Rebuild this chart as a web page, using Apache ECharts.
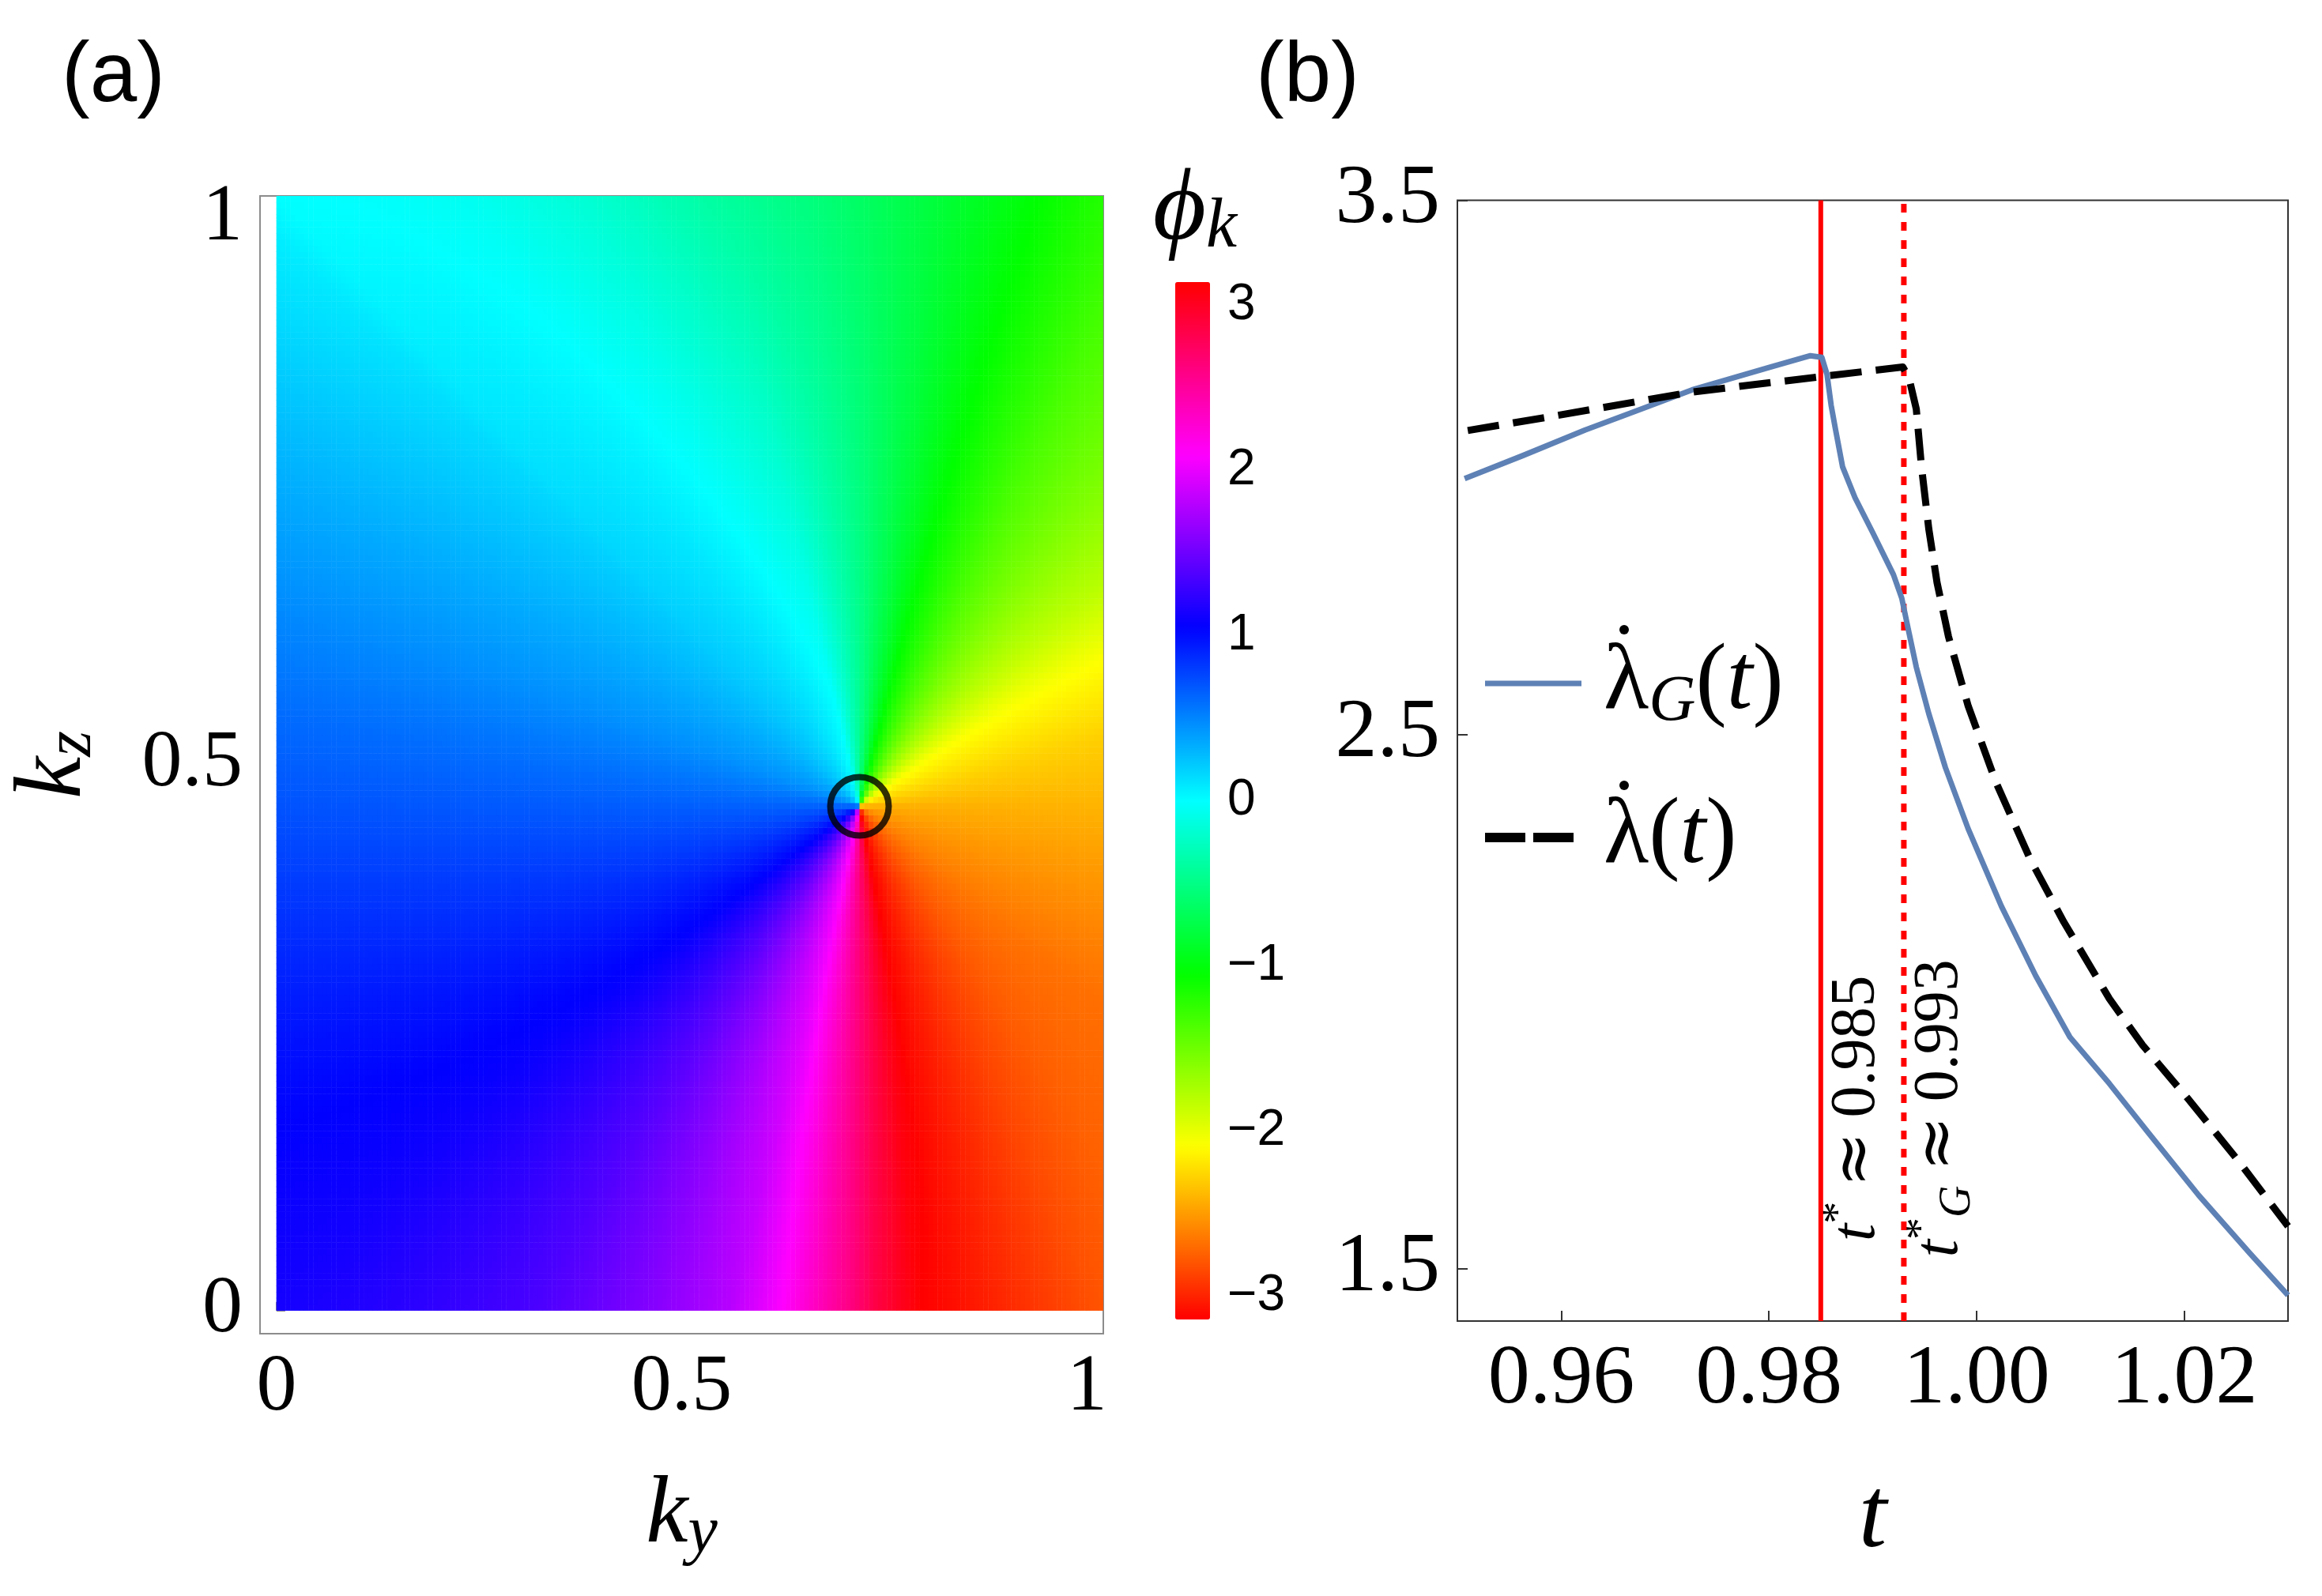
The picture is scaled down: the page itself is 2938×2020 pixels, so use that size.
<!DOCTYPE html>
<html style="height: 100%">
<head>
<meta charset="utf-8">
<script type="text/javascript" src="https://cdn.jsdelivr.net/npm/echarts@6/dist/echarts.min.js"></script>
<style type="text/css">
  html, body { margin: 0; height: 100%; background: #fff; }
  #main { width: 2938px; height: 2020px; }
</style>
</head>
<body>
<div id="main"></div>
<script type="text/javascript">
// ---------- panel (a): phase of the k-plane ----------
var vortex = [0.7194, 0.4615];  // centre of the winding (ky, kz)
var kMax = 1.02;                // the map runs 0 .. 1.02 in both directions

// phase read along the border, anticlockwise from the bottom-right corner
var rightKz    = [0, 0.137, 0.278, 0.419, 0.525, 0.596, 0.666, 0.772, 0.913, 1.02];
var rightPhase = [-2.80, -2.74, -2.69, -2.48, -2.29, -2.09, -1.80, -1.54, -1.33, -1.19];
var topKy      = [0.918, 0.81, 0.667, 0.524, 0.381, 0.238, 0.1, 0];
var topPhase   = [-1.00, -0.80, -0.55, -0.37, -0.18, -0.06, -0.01, 0.00];
var leftKz     = [0.984, 0.878, 0.772, 0.666, 0.56, 0.454, 0.349, 0.243, 0.137, 0];
var leftPhase  = [0.07, 0.19, 0.32, 0.45, 0.59, 0.72, 0.86, 0.98, 1.07, 1.13];
var bottomKy   = [0.166, 0.309, 0.452, 0.56, 0.624, 0.667, 0.71, 0.739, 0.796, 0.846, 0.918, 1.02];
var bottomPhase = [1.22, 1.34, 1.57, 1.80, 2.09, 2.36, 2.62, 2.85, -3.14, -3.07, -2.95, -2.80];

// phase read on a small ring round the vortex (direction in degrees)
var innerRadius = 0.1;
var innerAngle = [-28, 0, 26.8, 40.8, 70.8, 90, 107.5, 143, 165, 180, 191, 209, 254.5, 284.2, 300, 315];
var innerPhase = [-2.62, -2.42, -2.09, -1.75, -1.05, -0.45, 0.00, 0.26, 0.45, 0.65, 0.79, 1.05, 2.09, 3.14, -2.95, -2.78];

var ticksA = [0, 0.5, 1];
var barTicks = [-3, -2, -1, 0, 1, 2, 3];
var barMinor = [-3, -2.8, -2.6, -2.4, -2.2, -2, -1.8, -1.6, -1.4, -1.2, -1, -0.8, -0.6, -0.4, -0.2, 0,
                0.2, 0.4, 0.6, 0.8, 1, 1.2, 1.4, 1.6, 1.8, 2, 2.2, 2.4, 2.6, 2.8, 3];
var hueStops = ['#ff0000', '#ffff00', '#00ff00', '#00ffff', '#0000ff', '#ff00ff', '#ff0000'];

// ---------- panel (b): rates around the transition ----------
var tG   = [0.9507, 0.9563, 0.9623, 0.9677, 0.9726, 0.9802, 0.9840, 0.9851, 0.9856, 0.9860,
            0.9864, 0.9871, 0.9883, 0.9900, 0.9920, 0.9928, 0.9935, 0.9942, 0.9954, 0.9970,
            0.9992, 1.0024, 1.0057, 1.0090, 1.0128, 1.0166, 1.0214, 1.0263, 1.0300];
var lamG = [2.979, 3.022, 3.070, 3.109, 3.145, 3.188, 3.209, 3.206, 3.174, 3.116,
            3.073, 3.001, 2.943, 2.878, 2.799, 2.755, 2.690, 2.626, 2.539, 2.438,
            2.323, 2.178, 2.048, 1.933, 1.846, 1.753, 1.637, 1.529, 1.450];
var tL   = [0.9510, 0.9590, 0.9726, 0.9851, 0.9929, 0.9935, 0.9942, 0.9947, 0.9954, 0.9962,
            0.9973, 0.9992, 1.0019, 1.0052, 1.0084, 1.0128, 1.0160, 1.0204, 1.0252, 1.0300];
var lam  = [3.069, 3.095, 3.141, 3.170, 3.188, 3.167, 3.109, 3.001, 2.885, 2.784,
            2.683, 2.553, 2.409, 2.265, 2.149, 2.005, 1.918, 1.817, 1.702, 1.579];
var tStar = 0.985, tStarG = 0.993;
var xTicksB = [0.96, 0.98, 1.00, 1.02];
var yTicksB = [1.5, 2.5, 3.5];
var yMinB = 1.4016, yMaxB = 3.5;

var serif = "'Liberation Serif', 'DejaVu Serif', serif";
var sans = "'Liberation Sans', Arial, sans-serif";
var TWO_PI = 2 * Math.PI;

function wrap(v) {
    while (v > Math.PI) v -= TWO_PI;
    while (v < -Math.PI) v += TWO_PI;
    return v;
}

// angle-sorted lookup tables, unwrapped so neighbours never jump by more than pi
function makeTable(angles, phases) {
    var a = [], p = [];
    var base = angles[0];
    angles.forEach(function (x, i) {
        while (x < base - 1e-9) x += TWO_PI;
        var v = phases[i];
        if (i > 0) {
            while (v - p[i - 1] > Math.PI) v -= TWO_PI;
            while (v - p[i - 1] < -Math.PI) v += TWO_PI;
        }
        a.push(x);
        p.push(v);
    });
    var v0 = phases[0];
    while (v0 - p[p.length - 1] > Math.PI) v0 -= TWO_PI;
    while (v0 - p[p.length - 1] < -Math.PI) v0 += TWO_PI;
    a.push(base + TWO_PI);
    p.push(v0);
    return {a: a, p: p};
}
function lookup(tab, a) {
    while (a < tab.a[0]) a += TWO_PI;
    while (a > tab.a[0] + TWO_PI) a -= TWO_PI;
    var k = 0;
    while (k < tab.a.length - 2 && tab.a[k + 1] < a) k++;
    var f = (a - tab.a[k]) / (tab.a[k + 1] - tab.a[k]);
    f = Math.max(0, Math.min(1, f));
    return wrap(tab.p[k] + f * (tab.p[k + 1] - tab.p[k]));
}

var border = [];
rightKz.forEach(function (z, i) { border.push([kMax, z, rightPhase[i]]); });
topKy.forEach(function (y, i) { border.push([y, kMax, topPhase[i]]); });
leftKz.forEach(function (z, i) { border.push([0, z, leftPhase[i]]); });
bottomKy.forEach(function (y, i) { border.push([y, 0, bottomPhase[i]]); });
border.pop(); // last point is the starting corner again
var borderTab = makeTable(
    border.map(function (q) { return Math.atan2(q[1] - vortex[1], q[0] - vortex[0]); }),
    border.map(function (q) { return q[2]; }));
var innerTab = makeTable(
    innerAngle.map(function (d) { return d * Math.PI / 180; }), innerPhase);

// distance from the vortex to the border along a direction
function rayLength(c, s) {
    var t = Infinity;
    if (c > 1e-12) t = Math.min(t, (kMax - vortex[0]) / c);
    if (c < -1e-12) t = Math.min(t, (0 - vortex[0]) / c);
    if (s > 1e-12) t = Math.min(t, (kMax - vortex[1]) / s);
    if (s < -1e-12) t = Math.min(t, (0 - vortex[1]) / s);
    return t;
}
function phaseAt(x, y) {
    var dx = x - vortex[0], dy = y - vortex[1];
    var r = Math.sqrt(dx * dx + dy * dy);
    var a = Math.atan2(dy, dx);
    var pin = lookup(innerTab, a);
    var pout = lookup(borderTab, a);
    var R = rayLength(Math.cos(a), Math.sin(a));
    var w = (r - innerRadius) / (R - innerRadius);
    w = Math.max(0, Math.min(1, w));
    return wrap(pin + w * wrap(pout - pin));
}

var N = 180;
var cats = [];
for (var i = 0; i < N; i++) cats.push(i);
var cells = [];
for (var i = 0; i < N; i++) {
    for (var j = 0; j < N; j++) {
        cells.push([i, j, phaseAt((i + 0.5) * kMax / N, (j + 0.5) * kMax / N)]);
    }
}

// frame of panel (a)
var frameA = {left: 329, top: 248, width: 1067, height: 1440};
var xMinA = -0.0204, xMaxA = 1.0203, yMinA = -0.0212, yMaxA = 1.0202;
var heatBox = {
    left: frameA.left + (0 - xMinA) / (xMaxA - xMinA) * frameA.width,
    top: frameA.top + (yMaxA - kMax) / (yMaxA - yMinA) * frameA.height,
    width: kMax / (xMaxA - xMinA) * frameA.width,
    height: kMax / (yMaxA - yMinA) * frameA.height
};

// legend box of panel (b)
var legendBox = {left: 1873, top: 806, iconW: 122, gap: 71, textGap: 23};

function pairs(xs, ys) {
    return xs.map(function (x, i) { return [x, ys[i]]; });
}
function minus(v) {
    return v < 0 ? '\u2212' + (-v) : String(v);
}

var chart = echarts.init(document.getElementById('main'));
var option = {
    animation: false,
    backgroundColor: '#fff',
    grid: [
        {left: heatBox.left, top: heatBox.top, width: heatBox.width, height: heatBox.height, show: false},
        {left: frameA.left, top: frameA.top, width: frameA.width, height: frameA.height,
         show: true, borderColor: '#8c8c8c', borderWidth: 2, backgroundColor: 'transparent'},
        {left: 1844, top: 253.5, width: 1051, height: 1418.5,
         show: true, borderColor: '#333', borderWidth: 2, backgroundColor: 'transparent'},
        {left: 1487, top: 357, width: 44, height: 1313, show: false}
    ],
    xAxis: [
        {gridIndex: 0, type: 'category', data: cats, show: false, boundaryGap: true},
        {gridIndex: 1, type: 'value', min: xMinA, max: xMaxA,
         axisLine: {show: false}, splitLine: {show: false},
         axisTick: {inside: true, length: 11, customValues: ticksA, lineStyle: {color: '#8c8c8c', width: 2}},
         axisLabel: {customValues: ticksA, margin: 18, fontFamily: serif, fontSize: 102, color: '#000'},
         name: '{k|k}{s|y}', nameLocation: 'middle', nameGap: 166,
         nameTextStyle: {rich: {
             k: {fontFamily: serif, fontStyle: 'italic', fontSize: 120, lineHeight: 130, color: '#000'},
             s: {fontFamily: serif, fontStyle: 'italic', fontSize: 84, lineHeight: 84, verticalAlign: 'bottom', color: '#000'}
         }}},
        {gridIndex: 2, type: 'value', min: 0.95, max: 1.03,
         axisLine: {show: false}, splitLine: {show: false},
         axisTick: {inside: true, length: 13, customValues: xTicksB, lineStyle: {color: '#333', width: 2}},
         axisLabel: {customValues: xTicksB, margin: 22, fontFamily: serif, fontSize: 106, color: '#000',
                     formatter: function (v) { return v.toFixed(2); }},
         name: '{i|t}', nameLocation: 'middle', nameGap: 181,
         nameTextStyle: {rich: {
             i: {fontFamily: serif, fontStyle: 'italic', fontSize: 128, lineHeight: 140, color: '#000'}
         }}},
        {gridIndex: 3, type: 'value', min: 0, max: 1, show: false}
    ],
    yAxis: [
        {gridIndex: 0, type: 'category', data: cats, show: false, boundaryGap: true},
        {gridIndex: 1, type: 'value', min: yMinA, max: yMaxA,
         axisLine: {show: false}, splitLine: {show: false},
         axisTick: {inside: true, length: 11, customValues: ticksA, lineStyle: {color: '#8c8c8c', width: 2}},
         axisLabel: {customValues: ticksA, margin: 22, fontFamily: serif, fontSize: 102, color: '#000'},
         name: '{k|k}{s|z}', nameLocation: 'middle', nameRotate: 90, nameGap: 195,
         nameTextStyle: {rich: {
             k: {fontFamily: serif, fontStyle: 'italic', fontSize: 120, lineHeight: 130, color: '#000'},
             s: {fontFamily: serif, fontStyle: 'italic', fontSize: 84, lineHeight: 84, verticalAlign: 'bottom', color: '#000'}
         }}},
        {gridIndex: 2, type: 'value', min: yMinB, max: yMaxB,
         axisLine: {show: false}, splitLine: {show: false},
         axisTick: {inside: true, length: 13, customValues: yTicksB, lineStyle: {color: '#333', width: 2}},
         axisLabel: {customValues: yTicksB, margin: 22, fontFamily: serif, fontSize: 106, color: '#000',
                     formatter: function (v) { return v.toFixed(1); }}},
        {gridIndex: 3, type: 'value', min: -Math.PI, max: Math.PI, position: 'right',
         axisLine: {show: false}, splitLine: {show: false},
         axisTick: {show: true, inside: false, length: 13, customValues: barMinor,
                    lineStyle: {color: '#d8d8d8', width: 2}},
         axisLabel: {customValues: barTicks, margin: 22, fontFamily: sans, fontSize: 64, color: '#000',
                     formatter: minus}}
    ],
    visualMap: {
        type: 'continuous', seriesIndex: 0, dimension: 2,
        min: -Math.PI, max: Math.PI, calculable: false, hoverLink: false,
        left: 1487, top: 357, itemWidth: 44, itemHeight: 1313, padding: 0,
        text: null, inRange: {color: hueStops}
    },
    legend: {
        orient: 'vertical', left: legendBox.left, top: legendBox.top, padding: 0,
        itemWidth: legendBox.iconW, itemHeight: 14, itemGap: legendBox.gap, selectedMode: false,
        itemStyle: {opacity: 0},
        data: [
            {name: 'lamG', lineStyle: {width: 7}},
            {name: 'lam', lineStyle: {width: 12, type: [51, 10]}}
        ],
        formatter: function (n) {
            return n === 'lamG'
                ? '{g| }{l|\u03bb}{s|G}{p|(}{i|t}{p|)}'
                : '{g| }{l|\u03bb}{p|(}{i|t}{p|)}';
        },
        textStyle: {rich: {
            g: {width: legendBox.textGap},
            l: {fontFamily: serif, fontSize: 118, lineHeight: 130, color: '#000'},
            s: {fontFamily: serif, fontStyle: 'italic', fontSize: 82, lineHeight: 82, verticalAlign: 'bottom', color: '#000'},
            p: {fontFamily: serif, fontSize: 118, lineHeight: 130, color: '#000'},
            i: {fontFamily: serif, fontStyle: 'italic', fontSize: 118, lineHeight: 130, color: '#000'}
        }}
    },
    series: [
        {type: 'heatmap', xAxisIndex: 0, yAxisIndex: 0, data: cells,
         progressive: 0, progressiveThreshold: 1e7, silent: true,
         itemStyle: {borderWidth: 0}, emphasis: {disabled: true}},
        {type: 'scatter', xAxisIndex: 1, yAxisIndex: 1, data: [vortex], z: 5, silent: true,
         symbol: 'circle', symbolSize: 74,
         itemStyle: {color: 'rgba(0,0,0,0)', borderColor: '#000', borderWidth: 8}},
        {type: 'line', xAxisIndex: 2, yAxisIndex: 2, data: [[tStar, yMinB], [tStar, yMaxB]],
         symbol: 'none', silent: true, lineStyle: {color: '#ff0000', width: 6, type: 'solid'}},
        {type: 'line', xAxisIndex: 2, yAxisIndex: 2, data: [[tStarG, yMinB], [tStarG, yMaxB]],
         symbol: 'none', silent: true, lineStyle: {color: '#ff0000', width: 7, type: [11, 12]}},
        {name: 'lamG', type: 'line', xAxisIndex: 2, yAxisIndex: 2, data: pairs(tG, lamG),
         symbol: 'none', silent: true,
         lineStyle: {color: '#5e81b5', width: 7, join: 'round'}, itemStyle: {color: '#5e81b5'}},
        {name: 'lam', type: 'line', xAxisIndex: 2, yAxisIndex: 2, data: pairs(tL, lam),
         symbol: 'none', silent: true,
         lineStyle: {color: '#000', width: 9, type: [40, 18], join: 'round'}, itemStyle: {color: '#000'}}
    ]
};
chart.setOption(option);

// text that sits on the figure itself
var p1 = chart.convertToPixel({gridIndex: 2}, [tStar, 1.80]);
var p2 = chart.convertToPixel({gridIndex: 2}, [tStarG, 1.80]);
var markRich = {
    i: {fontFamily: serif, fontStyle: 'italic', fontSize: 80, lineHeight: 100, fill: '#000'},
    u: {fontFamily: serif, fontSize: 56, lineHeight: 56, verticalAlign: 'top', fill: '#000'},
    d: {fontFamily: serif, fontStyle: 'italic', fontSize: 56, lineHeight: 56, verticalAlign: 'bottom', fill: '#000'},
    a: {fontFamily: "'DejaVu Serif', serif", fontSize: 84, lineHeight: 100, fill: '#000', padding: [0, 18, 0, 18]},
    n: {fontFamily: serif, fontSize: 80, lineHeight: 100, fill: '#000'}
};
// time-derivative dots over the two lambdas of the legend
var rowH = 126;
var dotX = legendBox.left + legendBox.iconW + 5 + legendBox.textGap + 32;
var dotY1 = legendBox.top + rowH / 2 - 72;
var dotY2 = dotY1 + rowH + legendBox.gap;
chart.setOption({
    graphic: [
        {type: 'text', x: 78, y: 98, style: {text: '(a)', fontFamily: sans, fontSize: 107, fill: '#000',
            align: 'left', verticalAlign: 'middle'}},
        {type: 'text', x: 1589, y: 98, style: {text: '(b)', fontFamily: sans, fontSize: 107, fill: '#000',
            align: 'left', verticalAlign: 'middle'}},
        {type: 'text', x: 1512, y: 268, style: {text: '{p|\u03d5}{s|k}', align: 'center', verticalAlign: 'middle',
            rich: {
                p: {fontFamily: serif, fontStyle: 'italic', fontSize: 130, lineHeight: 130, fill: '#000'},
                s: {fontFamily: serif, fontStyle: 'italic', fontSize: 88, lineHeight: 88, verticalAlign: 'bottom', fill: '#000'}
            }}},
        {type: 'text', x: p1[0] + 46, y: p1[1], rotation: Math.PI / 2,
         style: {text: '{i|t}{u|*}{a|\u2248}{n|0.985}', align: 'center', verticalAlign: 'middle', rich: markRich}},
        {type: 'text', x: p2[0] + 46, y: p2[1], rotation: Math.PI / 2,
         style: {text: '{i|t}{u|*}{d|G}{a|\u2248}{n|0.993}', align: 'center', verticalAlign: 'middle', rich: markRich}},
        {type: 'circle', shape: {cx: dotX, cy: dotY1, r: 6}, style: {fill: '#000'}, silent: true},
        {type: 'circle', shape: {cx: dotX, cy: dotY2, r: 6}, style: {fill: '#000'}, silent: true}
    ]
});
</script>
</body>
</html>
